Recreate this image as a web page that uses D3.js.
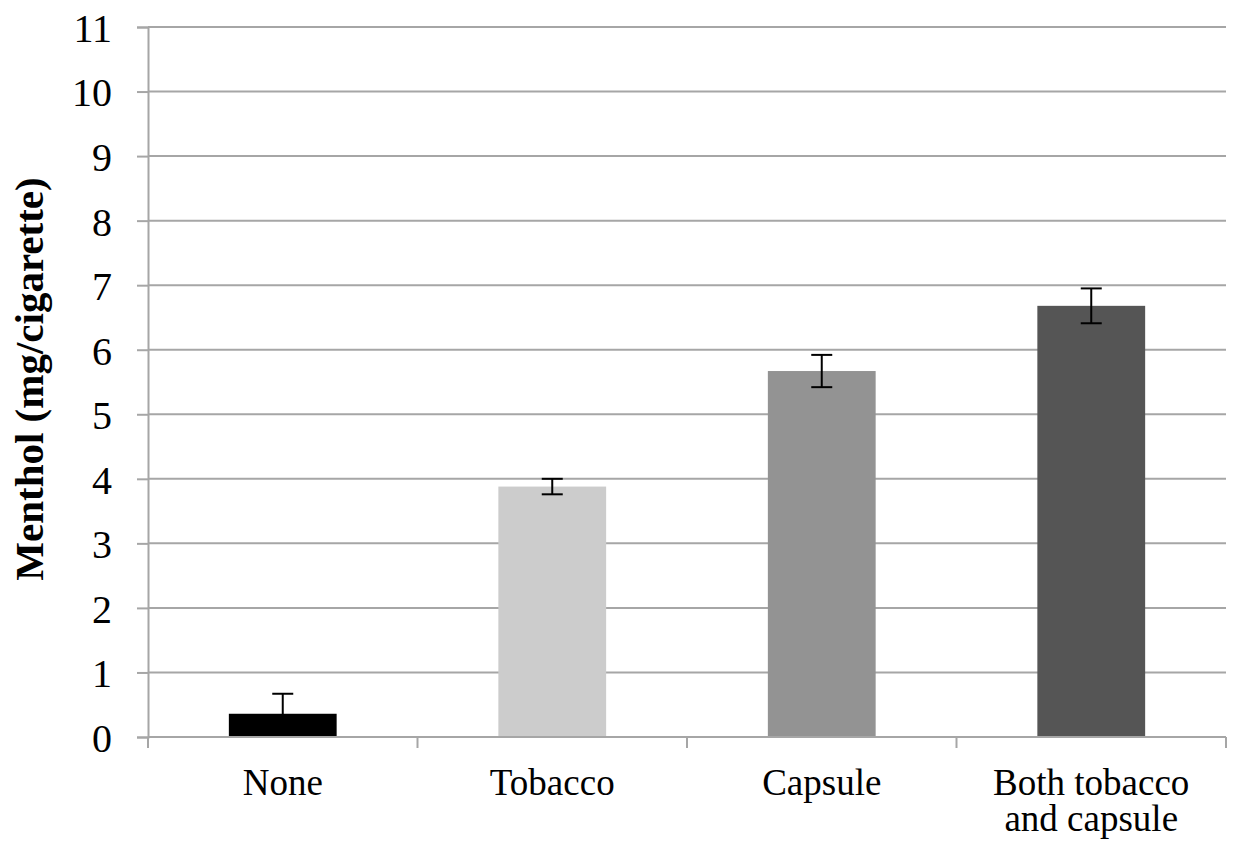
<!DOCTYPE html>
<html>
<head>
<meta charset="utf-8">
<script src="https://cdn.jsdelivr.net/npm/d3@7/dist/d3.min.js"></script>
<style>
  html, body { margin: 0; padding: 0; background: #fff; }
  svg { display: block; }
</style>
</head>
<body>
<svg id="chart" width="1233" height="850"></svg>
<script>
const categories = ["None", "Tobacco", "Capsule", "Both tobacco\nand capsule"];
const values = [0.36, 3.88, 5.67, 6.68];
const errors = [0.31, 0.12, 0.25, 0.27];
const barColors = ["#000000", "#cccccc", "#939393", "#555555"];
const yTicks = [0, 1, 2, 3, 4, 5, 6, 7, 8, 9, 10, 11];
const yTitle = "Menthol (mg/cigarette)";

const W = 1233, H = 850;
const margin = { left: 148, right: 7, top: 27, bottom: 113 };
const svg = d3.select("#chart");
const font = "'Liberation Serif', 'Times New Roman', serif";
const gridColor = "#a6a6a6";

const x = d3.scaleBand().domain(categories).range([margin.left, W - margin.right]).padding(0);
const y = d3.scaleLinear().domain([0, 11]).range([H - margin.bottom, margin.top]);

// gridlines
svg.append("g").selectAll("line").data(yTicks.filter(d => d > 0)).join("line")
  .attr("x1", margin.left).attr("x2", W - margin.right)
  .attr("y1", d => y(d)).attr("y2", d => y(d))
  .attr("stroke", gridColor).attr("stroke-width", 2);

// y axis
const yAxis = svg.append("g").attr("transform", `translate(${margin.left},0)`)
  .call(d3.axisLeft(y).tickValues(yTicks).tickSize(11).tickPadding(25).tickFormat(d3.format("d")));
yAxis.select(".domain").attr("stroke", gridColor).attr("stroke-width", 2);
yAxis.selectAll(".tick line").attr("stroke", gridColor).attr("stroke-width", 2);
yAxis.selectAll(".tick text").attr("font-family", font).attr("font-size", 40).attr("fill", "#000")
  .attr("dy", "0.36em");

// bars
const barW = x.bandwidth() * 0.4;
svg.append("g").selectAll("rect").data(values).join("rect")
  .attr("x", (d, i) => x(categories[i]) + (x.bandwidth() - barW) / 2)
  .attr("width", barW)
  .attr("y", d => y(d))
  .attr("height", d => y(0) - y(d))
  .attr("fill", (d, i) => barColors[i]);

// x axis
const xAxisG = svg.append("g").attr("transform", `translate(0,${y(0)})`);
xAxisG.append("line").attr("x1", margin.left).attr("x2", W - margin.right)
  .attr("y1", 0).attr("y2", 0).attr("stroke", gridColor).attr("stroke-width", 2);
const bounds = categories.map(c => x(c)).concat([x(categories[categories.length - 1]) + x.bandwidth()]);
xAxisG.selectAll("line.tk").data(bounds).join("line").attr("class", "tk")
  .attr("x1", d => d).attr("x2", d => d).attr("y1", 0).attr("y2", 11)
  .attr("stroke", gridColor).attr("stroke-width", 2);

// error bars
const capW = 21;
const eg = svg.append("g").attr("stroke", "#000").attr("stroke-width", 2);
values.forEach((v, i) => {
  const cx = x(categories[i]) + x.bandwidth() / 2;
  const lo = v - errors[i], hi = v + errors[i];
  eg.append("line").attr("x1", cx).attr("x2", cx).attr("y1", y(lo)).attr("y2", y(hi));
  eg.append("line").attr("x1", cx - capW / 2).attr("x2", cx + capW / 2).attr("y1", y(hi)).attr("y2", y(hi));
  eg.append("line").attr("x1", cx - capW / 2).attr("x2", cx + capW / 2).attr("y1", y(lo)).attr("y2", y(lo));
});

// category labels
const lg = svg.append("g");
categories.forEach(c => {
  const cx = x(c) + x.bandwidth() / 2;
  const lines = c.split("\n");
  const t = lg.append("text").attr("x", cx).attr("y", 795)
    .attr("text-anchor", "middle").attr("font-family", font).attr("font-size", 37).attr("fill", "#000");
  lines.forEach((ln, j) => {
    t.append("tspan").attr("x", cx).attr("dy", j === 0 ? 0 : 36).text(ln);
  });
});

// y title
svg.append("text")
  .attr("transform", `translate(43,${379}) rotate(-90)`)
  .attr("text-anchor", "middle")
  .attr("font-family", font).attr("font-weight", "bold").attr("font-size", 41).attr("fill", "#000")
  .text(yTitle);
</script>
</body>
</html>
